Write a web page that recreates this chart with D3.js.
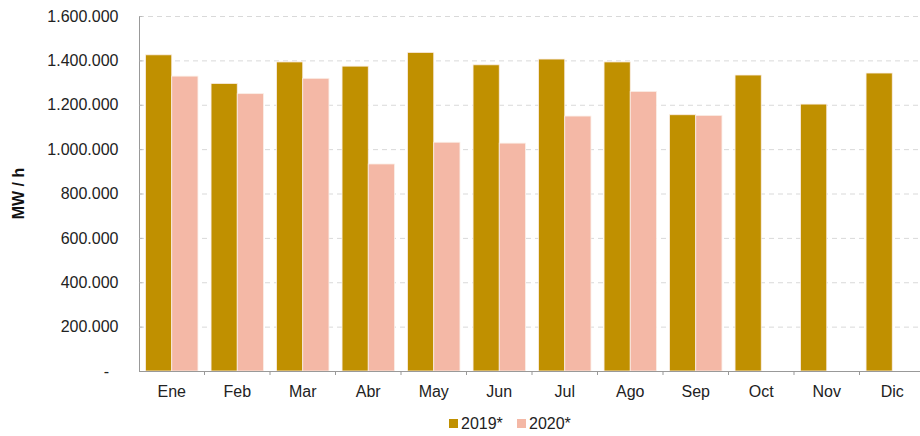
<!DOCTYPE html>
<html>
<head>
<meta charset="utf-8">
<script src="https://cdn.jsdelivr.net/npm/d3@7"></script>
<style>
    body { margin: 0; background: #fff; }
    svg { font-family: "Liberation Sans", Arial, sans-serif; }
</style>
</head>
<body>
<svg id="chart"></svg>
<script>
    const months = ["Ene", "Feb", "Mar", "Abr", "May", "Jun", "Jul", "Ago", "Sep", "Oct", "Nov", "Dic"];
    const seriesNames = ["2019*", "2020*"];
    const values2019 = [1425000, 1296000, 1393000, 1374000, 1436000, 1380000, 1406000, 1393000, 1155000, 1334000, 1203000, 1343000];
    const values2020 = [1329000, 1250000, 1319000, 933000, 1031000, 1027000, 1149000, 1260000, 1152000, null, null, null];
    const yTicks = [0, 200000, 400000, 600000, 800000, 1000000, 1200000, 1400000, 1600000];
    const colors = ["#c09000", "#f4b8a6"];

    (function () {
        const width = 920, height = 436;
        const margin = {top: 16, left: 139, bottom: 65};

        const svg = d3.select("#chart")
            .attr("width", width)
            .attr("height", height);

        const x0 = d3.scaleBand()
            .domain(months)
            .range([margin.left, 925])
            .paddingInner(0.2)
            .paddingOuter(0.1);

        const x1 = d3.scaleBand()
            .domain(seriesNames)
            .range([0, x0.bandwidth()]);

        const y = d3.scaleLinear()
            .domain([0, 1600000])
            .range([height - margin.bottom, margin.top]);

        const fmt = v => v === 0 ? "-" : d3.format(",")(v).replace(/,/g, ".");

        // dashed grid
        svg.append("g")
            .selectAll("line")
            .data(yTicks.filter(t => t > 0))
            .enter()
            .append("line")
            .attr("x1", margin.left)
            .attr("x2", width)
            .attr("y1", d => y(d) + 0.5)
            .attr("y2", d => y(d) + 0.5)
            .attr("stroke", "#d9d9d9")
            .attr("stroke-dasharray", "5,4");

        // bars
        const rows = months.map((m, i) => ({month: m, vals: [values2019[i], values2020[i]]}));
        svg.append("g")
            .selectAll("g")
            .data(rows)
            .enter()
            .append("g")
            .attr("transform", d => `translate(${x0(d.month)},0)`)
            .selectAll("rect")
            .data(d => d.vals.map((v, j) => ({name: seriesNames[j], value: v, j: j})).filter(d => d.value != null))
            .enter()
            .append("rect")
            .attr("x", d => x1(d.name))
            .attr("y", d => y(d.value))
            .attr("width", x1.bandwidth())
            .attr("height", d => y(0) - y(d.value))
            .attr("fill", d => colors[d.j])
            .attr("stroke", "#fbeee6")
            .attr("stroke-width", 0.8);

        // y axis
        const yAxis = d3.axisLeft(y)
            .tickValues(yTicks)
            .tickFormat(fmt)
            .tickSize(3)
            .tickPadding(18);
        const gy = svg.append("g")
            .attr("transform", `translate(${margin.left + 0.5},0)`)
            .call(yAxis);
        gy.select(".domain").attr("stroke", "#999").attr("d", `M0,${y(1600000)}V${y(0)}`);
        gy.selectAll(".tick line").attr("stroke", "#bbb").attr("x2", 3).attr("x1", 0);
        gy.selectAll(".tick text")
            .attr("font-size", 16)
            .attr("fill", "#222")
            .attr("font-family", "Liberation Sans, Arial, sans-serif");
        // zero label is a dash set further left, accounting style
        gy.selectAll(".tick text")
            .filter(function () { return this.textContent === "-"; })
            .attr("text-anchor", "middle")
            .attr("x", -33);

        // x axis
        const xAxis = d3.axisBottom(x0)
            .tickSize(0)
            .tickPadding(14);
        const gx = svg.append("g")
            .attr("transform", `translate(0,${y(0) + 0.5})`)
            .call(xAxis);
        gx.select(".domain").attr("stroke", "#999").attr("d", `M${margin.left},0H${width}`);
        gx.selectAll(".tick text")
            .attr("font-size", 16)
            .attr("fill", "#222")
            .attr("font-family", "Liberation Sans, Arial, sans-serif");

        // small ticks between groups
        svg.append("g")
            .selectAll("line")
            .data(months.slice(1))
            .enter()
            .append("line")
            .attr("x1", d => x0(d) - x0.step() * x0.paddingInner() / 2)
            .attr("x2", d => x0(d) - x0.step() * x0.paddingInner() / 2)
            .attr("y1", y(0))
            .attr("y2", y(0) + 4)
            .attr("stroke", "#999");

        // y title
        svg.append("text")
            .attr("transform", `translate(24,${(y(0) + y(1600000)) / 2}) rotate(-90)`)
            .attr("text-anchor", "middle")
            .attr("font-size", 16)
            .attr("font-weight", "bold")
            .attr("fill", "#111")
            .text("MW / h");

        // legend
        const legend = svg.append("g").attr("transform", "translate(449,419)");
        const items = legend.selectAll("g")
            .data(seriesNames)
            .enter()
            .append("g")
            .attr("transform", (d, i) => `translate(${i * 68},0)`);
        items.append("rect")
            .attr("width", 9)
            .attr("height", 9)
            .attr("fill", (d, i) => colors[i]);
        items.append("text")
            .attr("x", 12)
            .attr("y", 10)
            .attr("font-size", 16)
            .attr("fill", "#222")
            .text(d => d);
    })();
</script>
</body>
</html>
